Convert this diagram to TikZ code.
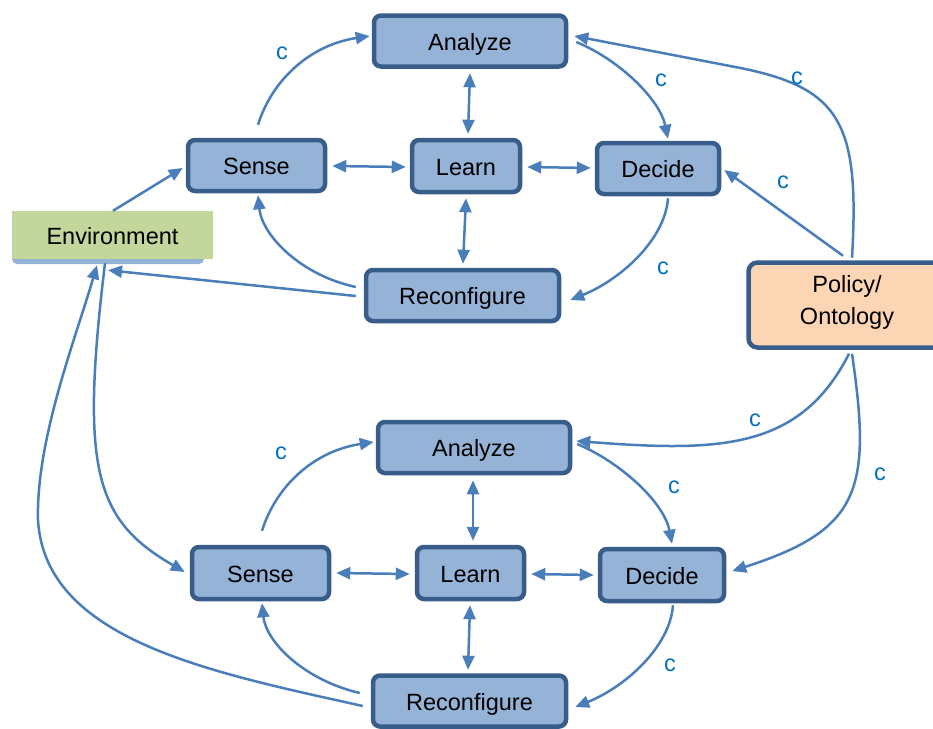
\documentclass[tikz,border=0pt]{standalone}
\usepackage{fontspec}
\setmainfont{Liberation Sans}
\usetikzlibrary{arrows.meta}
\definecolor{boxfill}{HTML}{95B3D7}
\definecolor{boxline}{HTML}{385D8A}
\definecolor{linkblue}{HTML}{4A7EBB}
\definecolor{envfill}{HTML}{C3D69B}
\definecolor{polfill}{HTML}{FCD5B5}
\definecolor{lblblue}{HTML}{0070C0}
\begin{document}
\begin{tikzpicture}[x=1pt,y=-1pt,
  box/.style={draw=boxline, fill=boxfill, line width=4.5pt, rounded corners=7pt, inner sep=0pt,
    font=\fontsize{23.5}{28}\selectfont, text height=18pt, text depth=0pt},
  link/.style={draw=linkblue, line width=2.5pt, -{Triangle[length=14pt,width=12pt]}},
  dbl/.style={draw=linkblue, line width=2.5pt, {Triangle[length=14pt,width=12pt]}-{Triangle[length=14pt,width=12pt]}},
  clabel/.style={text=lblblue, font=\fontsize{23.5}{28}\selectfont, inner sep=0pt}
]
\useasboundingbox (0,0) rectangle (933,728);
\clip (0,0) rectangle (933,728);

% top cluster
\node[box, minimum width=192pt, minimum height=51pt] (aT) at (470,41) {Analyze};
\node[box, minimum width=137pt, minimum height=51pt] (sT) at (256.5,165.5) {Sense};
\node[box, minimum width=108pt, minimum height=52pt] (lT) at (466,166) {Learn};
\node[box, minimum width=122pt, minimum height=51pt] (dT) at (658,168.5) {Decide};
\node[box, minimum width=193pt, minimum height=51pt] (rT) at (462.5,295.5) {Reconfigure};
% bottom cluster
\node[box, minimum width=192pt, minimum height=51pt] (aB) at (474,447.5) {Analyze};
\node[box, minimum width=137pt, minimum height=52pt] (sB) at (260.5,573) {Sense};
\node[box, minimum width=107pt, minimum height=52pt] (lB) at (470.5,573) {Learn};
\node[box, minimum width=124pt, minimum height=52pt] (dB) at (662,575) {Decide};
\node[box, minimum width=193pt, minimum height=51pt] (rB) at (469.5,701) {Reconfigure};

% environment
\fill[boxfill, rounded corners=5pt] (12,216) rectangle (204,264);
\node[fill=envfill, minimum width=201pt, minimum height=48pt, inner sep=0pt,
  font=\fontsize{23.5}{28}\selectfont, text height=18pt, text depth=0pt] (env) at (112.5,235) {Environment};

% policy
\node[draw=boxline, fill=polfill, line width=4.5pt, rounded corners=9pt, inner sep=0pt,
  minimum width=197pt, minimum height=85pt, align=center, text depth=11pt,
  font=\fontsize{23.5}{32}\selectfont] (pol) at (847,305) {Policy/\\Ontology};

% top cycle
\draw[link] ([shift={(1.5,-13)}]sT.north) .. controls (272,80) and (310,45) .. ([shift={(-2,-5)}]aT.west);
\draw[link] ([shift={(8,1)}]aT.east) .. controls (620,60) and (660,100) .. ([shift={(10,-2)}]dT.north);
\draw[link] ([shift={(10,2)}]dT.south) .. controls (665,240) and (620,280) .. ([shift={(9,4.5)}]rT.east);
\draw[link] ([shift={(-8,-8.5)}]rT.west) .. controls (300,275) and (262,235) .. ([shift={(1.5,2)}]sT.south);
\draw[link] ([shift={(-8,0.5)}]rT.west) -- ([shift={(-4.5,11)}]env.south);
\draw[link] ([shift={(0.5,0)}]env.north) -- ([shift={(-3,2.5)}]sT.west);

\draw[dbl] ([shift={(5,0.5)}]sT.east) -- ([shift={(-4,1)}]lT.west);
\draw[dbl] ([shift={(5,1)}]lT.east) -- ([shift={(-4,-0.5)}]dT.west);
\draw[dbl] ([shift={(0,4.5)}]aT.south) -- ([shift={(2,-4)}]lT.north);
\draw[dbl] ([shift={(0,4)}]lT.south) -- ([shift={(0.5,-4)}]rT.north);

% policy links
\draw[link] ([shift={(5,-2.5)}]pol.north) .. controls (860,120) and (840,86) .. (730,66) -- ([shift={(6,-5)}]aT.east);
\draw[link] ([shift={(-4,-4.5)}]pol.north) -- ([shift={(3,1.5)}]dT.east);
\draw[link] ([shift={(2,4)}]pol.south) .. controls (800,450) and (720,452) .. ([shift={(4,-6.5)}]aB.east);
\draw[link] ([shift={(5,4)}]pol.south) .. controls (872,490) and (860,530) .. ([shift={(6,-4)}]dB.east);

% bottom cycle
\draw[link] ([shift={(1.5,-14)}]sB.north) .. controls (276,486) and (314,451) .. ([shift={(-2,-5.5)}]aB.west);
\draw[link] ([shift={(5,-3.5)}]aB.east) .. controls (620,462) and (664,502) .. ([shift={(10,-3)}]dB.north);
\draw[link] ([shift={(11,2)}]dB.south) .. controls (670,647) and (625,687) .. ([shift={(7,6)}]rB.east);
\draw[link] ([shift={(-11,-8)}]rB.west) .. controls (304,680) and (266,642) .. ([shift={(1.5,2)}]sB.south);

\draw[dbl] ([shift={(5,0)}]sB.east) -- ([shift={(-5,1)}]lB.west);
\draw[dbl] ([shift={(5,1)}]lB.east) -- ([shift={(-4,0)}]dB.west);
\draw[dbl] ([shift={(-1,5)}]aB.south) -- ([shift={(2.5,-4)}]lB.north);
\draw[dbl] ([shift={(-0.5,4)}]lB.south) -- ([shift={(-1.5,-3.5)}]rB.north);

% environment links
\draw[link] ([shift={(-8,5)}]rB.west) .. controls (210,672) and (45,640) .. (38,520)
  .. controls (36,440) and (75,340) .. ([shift={(-15.5,6)}]env.south);
\draw[link] ([shift={(-7.5,4)}]env.south) .. controls (80,470) and (95,520) .. ([shift={(-5,-1)}]sB.west);

% labels
\node[clabel] (c1) at (282,53) {c};
\node[clabel] (c2) at (661,80) {c};
\node[clabel] (c3) at (797,78) {c};
\node[clabel] (c4) at (783,182) {c};
\node[clabel] (c5) at (663,268) {c};
\node[clabel] (c6) at (755,420) {c};
\node[clabel] (c7) at (880,474) {c};
\node[clabel] (c8) at (674,487) {c};
\node[clabel] (c9) at (670,665) {c};
\node[clabel] (c10) at (281,453) {c};
\end{tikzpicture}
\end{document}
